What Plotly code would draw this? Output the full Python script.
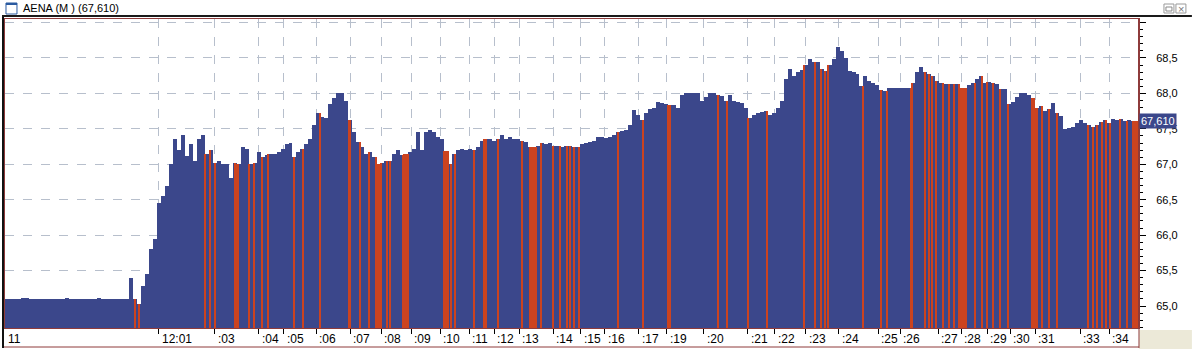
import plotly.graph_objects as go

# ---------------- data ----------------
prices = [
    65.10, 65.10, 65.10, 65.10, 65.12, 65.12, 65.10, 65.10, 65.10, 65.10,
    65.10, 65.10, 65.10, 65.10, 65.10, 65.11, 65.10, 65.10, 65.10, 65.10,
    65.10, 65.10, 65.10, 65.11, 65.10, 65.10, 65.10, 65.10, 65.10, 65.10,
    65.10, 65.40, 65.10, 65.03, 65.28, 65.45, 65.80, 65.95, 66.45, 66.55,
    66.70, 67.00, 67.35, 67.20, 67.41, 67.12, 67.28, 67.05, 67.35, 67.41,
    67.15, 67.20, 67.02, 67.05, 67.00, 67.00, 66.80, 67.02, 67.00, 67.24,
    67.22, 67.00, 67.02, 67.18, 67.10, 67.13, 67.15, 67.15, 67.17, 67.22,
    67.28, 67.30, 67.10, 67.18, 67.22, 67.28, 67.36, 67.55, 67.72, 67.67,
    67.65, 67.85, 67.93, 68.00, 68.00, 67.90, 67.62, 67.45, 67.32, 67.25,
    67.15, 67.18, 67.10, 67.00, 67.02, 67.05, 67.05, 67.15, 67.20, 67.13,
    67.14, 67.18, 67.22, 67.45, 67.20, 67.45, 67.48, 67.45, 67.38, 67.36,
    67.19, 67.00, 67.15, 67.20, 67.22, 67.20, 67.22, 67.20, 67.25, 67.33,
    67.35, 67.36, 67.33, 67.36, 67.42, 67.36, 67.38, 67.36, 67.35, 67.33,
    67.32, 67.24, 67.24, 67.26, 67.30, 67.28, 67.30, 67.26, 67.26, 67.25,
    67.26, 67.26, 67.25, 67.25, 67.28, 67.30, 67.31, 67.33, 67.38, 67.38,
    67.37, 67.38, 67.42, 67.46, 67.47, 67.48, 67.55, 67.76, 67.70, 67.62,
    67.72, 67.78, 67.80, 67.88, 67.86, 67.85, 67.83, 67.84, 67.80, 67.98,
    68.00, 68.00, 68.00, 68.00, 67.90, 67.95, 68.00, 68.00, 67.98, 67.96,
    67.90, 67.98, 67.90, 67.88, 67.87, 67.80, 67.65, 67.70, 67.73, 67.74,
    67.75, 67.70, 67.72, 67.80, 67.90, 68.20, 68.35, 68.25, 68.30, 68.33,
    68.40, 68.48, 68.45, 68.45, 68.35, 68.32, 68.40, 68.48, 68.66, 68.60,
    68.50, 68.32, 68.30, 68.28, 68.10, 68.25, 68.18, 68.15, 68.12, 68.05,
    68.03, 68.08, 68.08, 68.08, 68.08, 68.08, 68.08, 68.15, 68.30, 68.37,
    68.30, 68.27, 68.25, 68.18, 68.15, 68.13, 68.13, 68.13, 68.13, 68.08,
    68.08, 68.12, 68.14, 68.20, 68.25, 68.15, 68.16, 68.14, 68.13, 68.06,
    68.06, 67.85, 67.88, 67.95, 68.00, 68.00, 67.98, 67.93, 67.80, 67.82,
    67.75, 67.78, 67.86, 67.72, 67.68, 67.50, 67.51, 67.53, 67.58, 67.62,
    67.58, 67.55, 67.53, 67.56, 67.60, 67.63, 67.58, 67.64, 67.62, 67.64,
    67.61, 67.62, 67.61, 67.61,
]

# positions (in trade-sequence units) of the sell-side (red) prints
red_trades = [
    32.0, 33.0, 49.5, 50.75, 52.0, 57.0, 57.25, 57.5, 57.75, 58.0,
    60.75, 62.0, 64.0, 65.5, 72.0, 74.25, 78.5, 85.75, 86.0, 88.5,
    90.75, 92.5, 92.75, 93.0, 93.25, 93.75, 95.25, 96.0, 99.25, 99.5,
    99.75, 100.0, 100.5, 109.5, 109.75, 110.0, 110.25, 110.5, 111.25, 112.25,
    117.0, 119.5, 119.75, 120.0, 123.0, 129.0, 131.0, 131.25, 131.5, 131.75,
    132.0, 132.25, 132.5, 133.75, 136.75, 138.5, 140.25, 141.0, 142.0, 143.25,
    153.0, 159.25, 165.5, 165.75, 166.0, 178.0, 180.25, 185.5, 190.25, 199.75,
    202.5, 204.0, 205.0, 205.75, 214.5, 219.0, 220.5, 226.5, 226.75, 230.0,
    231.0, 231.75, 232.75, 234.5, 236.0, 237.25, 238.5, 238.75, 239.0, 239.25,
    239.5, 239.75, 240.0, 240.25, 242.5, 244.25, 245.5, 247.0, 248.75, 250.75,
    256.75, 257.0, 257.25, 257.5, 258.0, 259.25, 261.0, 263.0, 270.75, 272.0,
    273.0, 274.25, 275.25, 276.25, 278.75, 280.5, 282.0, 282.25, 282.5, 282.75,
    283.0,
]

time_tick_pos = [38.0, 52.0, 63.0, 69.25, 77.5, 86.0, 93.75, 101.25, 108.5, 115.75,
                 122.0, 128.25, 136.75, 143.75, 149.75, 158.25, 165.25, 174.5, 185.5,
                 192.25, 200.0, 208.25, 218.25, 223.75, 233.25, 239.0, 245.5, 251.25,
                 257.5, 268.75, 276.0]
time_tick_text = ["12:01", ":03", ":04", ":05", ":06", ":07", ":08", ":09", ":10", ":11",
                  ":12", ":13", ":14", ":15", ":16", ":17", ":19", ":20", ":21",
                  ":22", ":23", ":24", ":25", ":26", ":27", ":28", ":29", ":30",
                  ":31", ":33", ":34"]
first_label = "11"

price_ticks = [65.0, 65.5, 66.0, 66.5, 67.0, 67.5, 68.0, 68.5, 69.0]
price_tick_text = ["65,0", "65,5", "66,0", "66,5", "67,0", "67,5", "68,0", "68,5", ""]

last_price = 67.61
last_price_text = "67,610"
title_text = "AENA (M ) (67,610)"

# ---------------- styling / layout ----------------
W, H = 1192, 349
L, R, T, B = 3, 54, 19, 21
PW, PH = W - L - R, H - T - B
FONT = "Liberation Sans"
BLUE = "#3b478b"
RED = "#cc431f"
BORDER = "#8e3b3b"


def px(xp):
    return (xp - L) / PW


def py(yp):
    return (H - B - yp) / PH


n = len(prices)
red_prices = [prices[int(round(p))] for p in red_trades]

fig = go.Figure()
fig.add_trace(go.Bar(x=list(range(n)), y=prices, width=1.0,
                     marker=dict(color=BLUE, line=dict(width=0)),
                     hoverinfo="skip", showlegend=False))
fig.add_trace(go.Bar(x=red_trades, y=red_prices, width=0.3,
                     marker=dict(color=RED, line=dict(width=0)),
                     hoverinfo="skip", showlegend=False))

annotations = []
# time labels, left-aligned right of each tick
annotations.append(dict(x=-0.3, y=py(339), xref="x", yref="paper", text=first_label,
                        showarrow=False, xanchor="left", yanchor="middle",
                        font=dict(family=FONT, size=12, color="black")))
for pos, txt in zip(time_tick_pos, time_tick_text):
    annotations.append(dict(x=pos + 0.25, y=py(339), xref="x", yref="paper", text=txt,
                            showarrow=False, xanchor="left", yanchor="middle",
                            font=dict(family=FONT, size=12, color="black")))
# last price box
annotations.append(dict(x=1.0, y=last_price, xref="paper", yref="y", text=last_price_text,
                        showarrow=False, xanchor="left", yanchor="middle", xshift=1,
                        bgcolor=BLUE, borderpad=1,
                        font=dict(family=FONT, size=11, color="white")))
# title
annotations.append(dict(x=px(19), y=py(8), xref="paper", yref="paper", text=title_text,
                        showarrow=False, xanchor="left", yanchor="middle",
                        font=dict(family=FONT, size=11, color="black")))
annotations.append(dict(x=px(1181), y=py(9), xref="paper", yref="paper", text="×",
                        showarrow=False, xanchor="center", yanchor="middle",
                        font=dict(family=FONT, size=11, color="#7a7a7a")))

shapes = [
    # title bar separator
    dict(type="line", xref="paper", yref="paper", x0=px(0), x1=px(W), y0=py(16), y1=py(16),
         line=dict(color="#1a1a1a", width=2)),
    # icon
    dict(type="rect", xref="paper", yref="paper", x0=px(4), x1=px(15), y0=py(14), y1=py(3),
         line=dict(color="#2a5aa0", width=1), fillcolor="white"),
    dict(type="rect", xref="paper", yref="paper", x0=px(4), x1=px(15), y0=py(5), y1=py(3),
         line=dict(width=0), fillcolor="#2a5aa0"),
    # window buttons
    dict(type="rect", xref="paper", yref="paper", x0=px(1164), x1=px(1174), y0=py(13), y1=py(4),
         line=dict(color="#9a9a9a", width=1)),
    dict(type="rect", xref="paper", yref="paper", x0=px(1166), x1=px(1172), y0=py(11), y1=py(7),
         line=dict(color="#8a8a8a", width=1)),
    dict(type="rect", xref="paper", yref="paper", x0=px(1176), x1=px(1186), y0=py(13), y1=py(4),
         line=dict(color="#9a9a9a", width=1)),
    # lower right beige corner
    dict(type="rect", xref="paper", yref="paper", x0=px(1139), x1=px(W), y0=py(H), y1=py(330),
         line=dict(width=0), fillcolor="#ece9d8"),
    # label strip borders
    dict(type="line", xref="paper", yref="paper", x0=px(0), x1=px(1139), y0=py(347), y1=py(347),
         line=dict(color=BORDER, width=1)),
    dict(type="line", xref="paper", yref="paper", x0=px(1139), x1=px(1139), y0=py(328), y1=py(348),
         line=dict(color=BORDER, width=1)),
    # left dark window edge
    dict(type="line", xref="paper", yref="paper", x0=px(1), x1=px(1), y0=py(17), y1=py(348),
         line=dict(color="#111111", width=2)),
]

fig.update_layout(
    width=W, height=H,
    margin=dict(l=L, r=R, t=T, b=B, pad=0),
    paper_bgcolor="white", plot_bgcolor="white",
    barmode="overlay", bargap=0,
    showlegend=False,
    font=dict(family=FONT, size=11, color="black"),
    annotations=annotations,
    shapes=shapes,
    xaxis=dict(
        range=[-0.5, 283.25],
        tickvals=time_tick_pos, ticktext=[""] * len(time_tick_pos),
        ticks="outside", ticklen=5, tickcolor="black", tickwidth=1,
        showgrid=True, gridcolor="#b7bfcc", griddash="dash", gridwidth=1,
        showline=True, linecolor=BORDER, linewidth=1, mirror=True,
        zeroline=False, fixedrange=True,
    ),
    yaxis=dict(
        side="right",
        range=[64.69, 69.05],
        tickvals=price_ticks, ticktext=price_tick_text,
        ticks="outside", ticklen=6, tickcolor="black", tickwidth=1,
        ticklabelstandoff=8,
        minor=dict(dtick=0.1, tick0=65.0, ticks="outside", ticklen=3, tickcolor="black",
                   showgrid=False),
        showgrid=True, gridcolor="#b7bfcc", griddash="dash", gridwidth=1,
        showline=True, linecolor=BORDER, linewidth=2, mirror=True,
        zeroline=False, fixedrange=True,
        tickfont=dict(family=FONT, size=11, color="black"),
    ),
)

fig.write_html("out.html")
